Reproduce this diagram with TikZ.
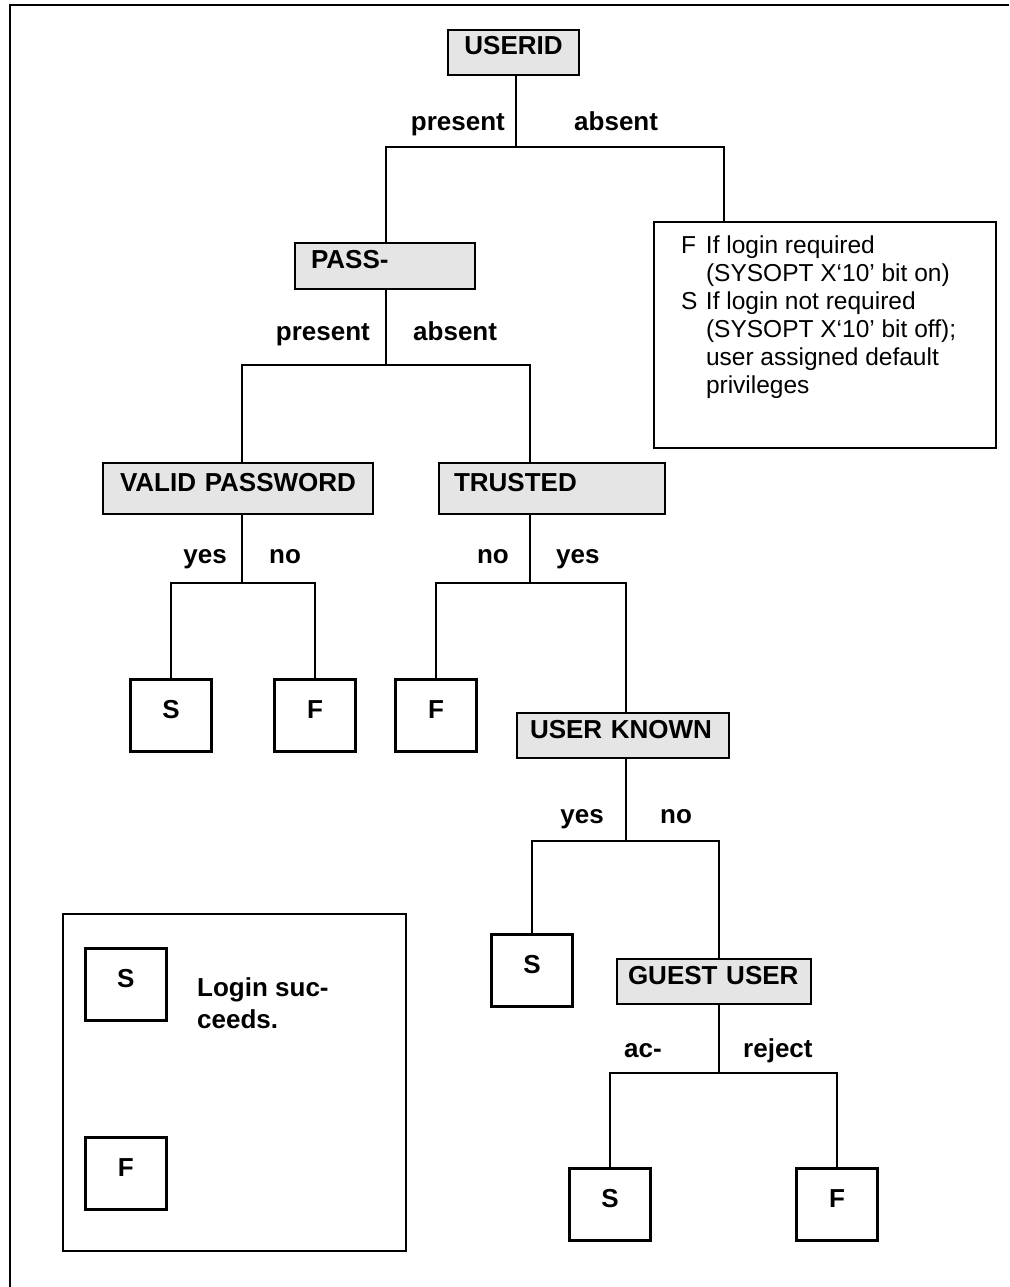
\documentclass[tikz,border=0pt]{standalone}
\usepackage{fontspec}
\setmainfont{Liberation Sans}
\usepackage{tikz}
\definecolor{testgray}{gray}{0.9}

\begin{document}
\begin{tikzpicture}[x=1pt, y=-1pt,
    test/.style={draw, line width=2pt, fill=testgray, anchor=north west, inner ysep=0pt,
      text height=19pt, text depth=14pt, font=\bfseries\fontsize{26}{30}\selectfont},
    leaf/.style={draw, line width=2.5pt, anchor=north, minimum width=81pt, minimum height=72pt,
      inner sep=0pt, text height=19pt, text depth=12pt, font=\bfseries\fontsize{26}{30}\selectfont},
    branch/.style={inner sep=0pt, font=\bfseries\fontsize{26}{30}\selectfont},
    conn/.style={line width=1.6pt}]

  \useasboundingbox (0,0) rectangle (1009,1287);

  % Page frame (top and left edge only)
  \draw[line width=2.5pt] (1009,5) -- (10,5) -- (10,1287);

  % Tests
  \node[test, minimum width=131pt, minimum height=45pt, text width=121pt, inner xsep=5pt, align=center] (userid) at (447,29) {USERID};
  \node[test, minimum width=180pt, minimum height=46pt, text width=148pt, inner xsep=16pt, align=left] (pass) at (294,242) {PASS-};
  \node[test, minimum width=270pt, minimum height=51pt, text width=260pt, inner xsep=5pt, align=center] (valid) at (102,462) {VALID PASSWORD};
  \node[test, minimum width=226pt, minimum height=51pt, text width=196pt, inner xsep=15pt, align=left] (trusted) at (438,462) {TRUSTED};
  \node[test, minimum width=212pt, minimum height=45pt, text width=186pt, inner xsep=13pt, align=left] (known) at (516,712) {USER KNOWN};
  \node[test, minimum width=194pt, minimum height=45pt, text width=172pt, inner xsep=11pt, align=left] (guest) at (616,958) {GUEST USER};

  % Outcome when no userid is given
  \node[draw, line width=2pt, anchor=north west, inner sep=0pt, font=\fontsize{24.5}{28}\selectfont] (info) at (653,221)
    {\parbox[t][226pt][t]{342pt}{\vspace*{12pt}\hspace*{27pt}\begin{tabular}[t]{@{}p{25pt}@{}l@{}}
      F & If login required\\
        & (SYSOPT X‘10’ bit on)\\
      S & If login not required\\
        & (SYSOPT X‘10’ bit off);\\
        & user assigned default\\
        & privileges
    \end{tabular}}};

  % Outcomes
  \node[leaf] (sa) at (171,678) {S};
  \node[leaf] (fa) at (315,678) {F};
  \node[leaf] (fb) at (436,678) {F};
  \node[leaf] (sb) at (532,933) {S};
  \node[leaf] (sc) at (610,1167) {S};
  \node[leaf] (fc) at (837,1167) {F};

  % Junctions
  \coordinate (j1) at (516,147);
  \coordinate (j2) at (386,365);
  \coordinate (j3) at (242,583);
  \coordinate (j4) at (530,583);
  \coordinate (j5) at (626,841);
  \coordinate (j6) at (719,1073);

  \draw[conn] (userid.south -| j1) -- (j1);
  \draw[conn] (pass.north -| j2) |- (j1) -| ([xshift=71pt]info.north west);
  \draw[conn] (pass.south -| j2) -- (j2);
  \draw[conn] (valid.north -| j3) |- (j2) -| (trusted.north -| j4);
  \draw[conn] (valid.south -| j3) -- (j3);
  \draw[conn] (sa.north) |- (j3) -| (fa.north);
  \draw[conn] (trusted.south -| j4) -- (j4);
  \draw[conn] (fb.north) |- (j4) -| (known.north -| j5);
  \draw[conn] (known.south -| j5) -- (j5);
  \draw[conn] (sb.north) |- (j5) -| (guest.north -| j6);
  \draw[conn] (guest.south -| j6) -- (j6);
  \draw[conn] (sc.north) |- (j6) -| (fc.north);

  % Branch labels
  \node[branch, anchor=base east] (userid-p) at (505,131) {present};
  \node[branch, anchor=base west] (userid-a) at (574,131) {absent};
  \node[branch, anchor=base east] (pass-p) at (370,340) {present};
  \node[branch, anchor=base west] (pass-a) at (413,340) {absent};
  \node[branch, anchor=base east] (valid-y) at (227,563) {yes};
  \node[branch, anchor=base west] (valid-n) at (269,563) {no};
  \node[branch, anchor=base east] (trusted-n) at (509,563) {no};
  \node[branch, anchor=base west] (trusted-y) at (556,563) {yes};
  \node[branch, anchor=base east] (known-y) at (604,823) {yes};
  \node[branch, anchor=base west] (known-n) at (660,823) {no};
  \node[branch, anchor=base east] (guest-a) at (662,1057) {ac-};
  \node[branch, anchor=base west] (guest-r) at (743,1057) {reject};

  % Key
  \node[draw, line width=2pt, anchor=north west, minimum width=343pt, minimum height=337pt, inner sep=0pt] (key) at (62,913) {};
  \node[leaf, anchor=north west] (key-s) at (84,947) {S};
  \node[leaf, anchor=north west] (key-f) at (84,1136) {F};
  \node[branch, anchor=north west, align=left, font=\bfseries\fontsize{26}{32}\selectfont] (key-text) at (197,977) {Login suc-\\ceeds.};

\end{tikzpicture}
\end{document}
